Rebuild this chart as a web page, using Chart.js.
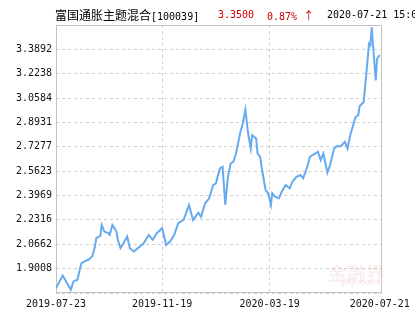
<!DOCTYPE html>
<html>
<head>
<meta charset="utf-8">
<script src="https://cdn.jsdelivr.net/npm/chart.js@4"></script>
<style>
  html, body { margin:0; padding:0; background:#fff; }
  #wrap { position:relative; width:415px; height:330px; overflow:hidden; }
  canvas { position:absolute; left:0; top:0; }
  .t { position:absolute; top:7px; white-space:nowrap; line-height:16px; font-size:12px; }
  .cjk { font-family:"Noto Sans CJK SC", sans-serif; font-size:12px; }
  .mono { font-family:"DejaVu Sans Mono", monospace; font-size:10px; }
  .red { color:#cc0000; }
  .wm { position:absolute; color:rgba(225,150,150,0.16); white-space:nowrap; pointer-events:none; }
</style>
</head>
<body>
<div id="wrap">
  <canvas id="c" width="415" height="330"></canvas>
  <span class="t" style="left:55px;"><span class="cjk">富国通胀主题混合</span><span class="mono">[100039]</span></span>
  <span class="t mono red" style="left:218px;">3.3500</span>
  <span class="t red" style="left:267px;"><span class="mono">0.87% </span><span class="cjk" style="font-size:11px;">↑</span></span>
  <span class="t mono" style="left:327px;">2020-07-21 15:00</span>
  <span class="wm" style="left:328px;top:259px;font-family:'Noto Sans CJK SC';font-weight:bold;font-size:19px;">金融界</span>
  <span class="wm" style="left:342px;top:277px;font-family:'DejaVu Sans';font-style:italic;font-weight:bold;font-size:9px;">JRJ.com</span>
</div>
<script>
// trading-day offsets from 2019-07-23
const dayIndex = [0,5,11,13,16,18,19,22,24,27,29,30,33,34,36,39,40,42,45,46,48,51,53,55,58,61,65,69,72,75,79,82,85,88,91,95,99,102,106,108,111,114,117,119,122,124,126,128,130,132,134,137,139,141,143,145,146,149,150,152,153,156,158,160,161,163,166,168,171,174,176,179,182,184,187,189,193,195,197,199,202,204,207,209,212,215,217,219,223,225,226,229,231,233,234,235,236,238,239,241];
const navValues = [1.769,1.8545,1.7577,1.8139,1.8254,1.9066,1.9384,1.954,1.9607,1.9831,2.0507,2.1076,2.1232,2.1976,2.1522,2.1414,2.1299,2.1976,2.1522,2.0961,2.0399,2.0846,2.1184,2.0399,2.0169,2.0399,2.069,2.1299,2.0961,2.1414,2.1753,2.0622,2.0846,2.1299,2.2091,2.2314,2.3329,2.2314,2.2808,2.2538,2.3444,2.3783,2.4683,2.4798,2.5813,2.5921,2.3329,2.5244,2.6151,2.6259,2.6828,2.8181,2.8858,2.9805,2.8181,2.7166,2.8066,2.7843,2.6828,2.6598,2.5921,2.4344,2.4121,2.3329,2.4121,2.3891,2.3783,2.4229,2.4683,2.4459,2.4906,2.5244,2.5359,2.5136,2.5921,2.6598,2.6828,2.6936,2.6374,2.6828,2.5515,2.6036,2.7166,2.7322,2.7322,2.7613,2.7166,2.8066,2.9304,2.942,3.0029,3.032,3.2241,3.4272,3.4156,3.5395,3.4156,3.1788,3.3256,3.35];
const xTickIndex = [0,79,159,241];
const xTickLabels = ['2019-07-23','2019-11-19','2020-03-19','2020-07-21'];
const yTickLabels = ['1.9008','2.0662','2.2316','2.3969','2.5623','2.7277','2.8931','3.0584','3.2238','3.3892'];
const yMin = 1.7354, yMax = 3.5546;

const points = dayIndex.map((d,i)=>({x:d, y:navValues[i]}));

const framePlugin = {
  id:'frame',
  beforeDatasetsDraw(chart){
    const a = chart.chartArea, ctx = chart.ctx;
    ctx.save();
    ctx.strokeStyle = '#c4c4c4';
    ctx.lineWidth = 1;
    ctx.strokeRect(Math.round(a.left)+0.5, Math.round(a.top)+0.5, Math.round(a.right-a.left)-1, Math.round(a.bottom-a.top)-1);
    ctx.restore();
  }
};

new Chart(document.getElementById('c'), {
  type:'line',
  data:{ datasets:[{ data:points, borderColor:'#66aaf0', borderWidth:2, pointRadius:0, tension:0, fill:false }] },
  options:{
    responsive:false, animation:false, events:[],
    layout:{ padding:{ top:25, right:22, left:0, bottom:0 } },
    plugins:{ legend:{display:false}, tooltip:{enabled:false}, title:{display:false} },
    scales:{
      x:{
        type:'linear', min:0, max:242.5,
        afterBuildTicks(s){ s.ticks = xTickIndex.map(v=>({value:v})); },
        afterFit(s){ s.height = 37; },
        grid:{ drawTicks:false, color(ctx){ const v = ctx.tick && ctx.tick.value; return (v===79||v===159)?'#cfcfcf':'rgba(0,0,0,0)'; }, lineWidth:1 },
        border:{ display:false, dash:[3,3] },
        ticks:{
          padding:5, maxRotation:0, autoSkip:false, color:'#111',
          font:{ family:'DejaVu Sans Mono', size:10 },
          callback(v){ const i = xTickIndex.indexOf(v); return i>=0 ? xTickLabels[i] : ''; }
        }
      },
      y:{
        type:'linear', min:yMin, max:yMax,
        afterBuildTicks(s){ s.ticks = [yMin].concat(yTickLabels.map(Number), [yMax]).map(v=>({value:v})); },
        afterFit(s){ s.width = 56; },
        grid:{ drawTicks:false, color:'#cfcfcf', lineWidth:1 },
        border:{ display:false, dash:[3,3] },
        ticks:{
          padding:4, color:'#111',
          font:{ family:'DejaVu Sans Mono', size:10 },
          callback(v){ const s = v.toFixed(4); return yTickLabels.indexOf(s)>=0 ? s : ''; }
        }
      }
    }
  },
  plugins:[framePlugin]
});
</script>
</body>
</html>
